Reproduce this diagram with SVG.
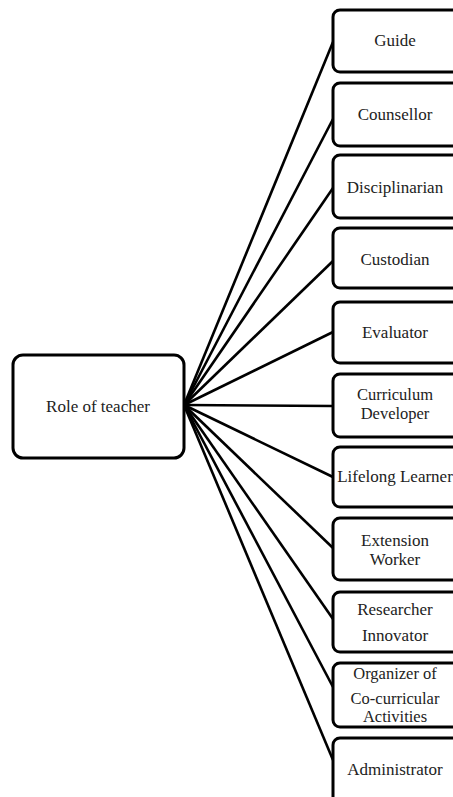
<svg xmlns="http://www.w3.org/2000/svg" width="453" height="797" viewBox="0 0 453 797">
<style>
.box{fill:#fff;stroke:#000;stroke-width:3}
.lk{stroke:#000;stroke-width:2.6;fill:none}
text{font-family:"Liberation Serif","Times New Roman",serif;font-size:17px;fill:#222;text-anchor:middle}
.t{font-size:16.5px}
</style>
<rect width="453" height="797" fill="#fff"/>
<g id="connectors">
<line class="lk" x1="184" y1="405" x2="333" y2="42"/>
<line class="lk" x1="184" y1="405" x2="333" y2="119"/>
<line class="lk" x1="184" y1="405" x2="333" y2="188"/>
<line class="lk" x1="184" y1="405" x2="333" y2="261"/>
<line class="lk" x1="184" y1="405" x2="333" y2="332"/>
<line class="lk" x1="184" y1="405" x2="333" y2="406"/>
<line class="lk" x1="184" y1="405" x2="333" y2="477"/>
<line class="lk" x1="184" y1="405" x2="333" y2="548"/>
<line class="lk" x1="184" y1="405" x2="333" y2="619"/>
<line class="lk" x1="184" y1="405" x2="333" y2="687"/>
<line class="lk" x1="184" y1="405" x2="333" y2="760"/>
</g>
<g id="root"><rect class="box" x="13" y="355" width="171" height="103" rx="10"/><text x="98" y="412">Role of teacher</text></g>
<g id="guide"><rect class="box" x="333" y="10" width="140" height="62" rx="7"/><text x="395" y="46">Guide</text></g>
<g id="counsellor"><rect class="box" x="333" y="83" width="140" height="63" rx="7"/><text x="395" y="120">Counsellor</text></g>
<g id="disciplinarian"><rect class="box" x="333" y="155" width="140" height="63" rx="7"/><text x="395" y="193">Disciplinarian</text></g>
<g id="custodian"><rect class="box" x="333" y="228" width="140" height="60" rx="7"/><text x="395" y="265">Custodian</text></g>
<g id="evaluator"><rect class="box" x="333" y="302" width="140" height="61" rx="7"/><text x="395" y="338">Evaluator</text></g>
<g id="curriculum"><rect class="box" x="333" y="374" width="140" height="63" rx="7"/><text class="t" x="395" y="400">Curriculum</text><text class="t" x="395" y="419">Developer</text></g>
<g id="lifelong"><rect class="box" x="333" y="447" width="140" height="60" rx="7"/><text x="395" y="482">Lifelong Learner</text></g>
<g id="extension"><rect class="box" x="333" y="518" width="140" height="62" rx="7"/><text x="395" y="546">Extension</text><text x="395" y="565">Worker</text></g>
<g id="researcher"><rect class="box" x="333" y="592" width="140" height="60" rx="7"/><text x="395" y="615">Researcher</text><text x="395" y="641">Innovator</text></g>
<g id="organizer"><rect class="box" x="333" y="663" width="140" height="64" rx="7"/><text class="t" x="395" y="679">Organizer of</text><text class="t" x="395" y="704">Co-curricular</text><text class="t" x="395" y="722">Activities</text></g>
<g id="administrator"><rect class="box" x="333" y="738" width="140" height="80" rx="7"/><text x="395" y="775">Administrator</text></g>
</svg>
